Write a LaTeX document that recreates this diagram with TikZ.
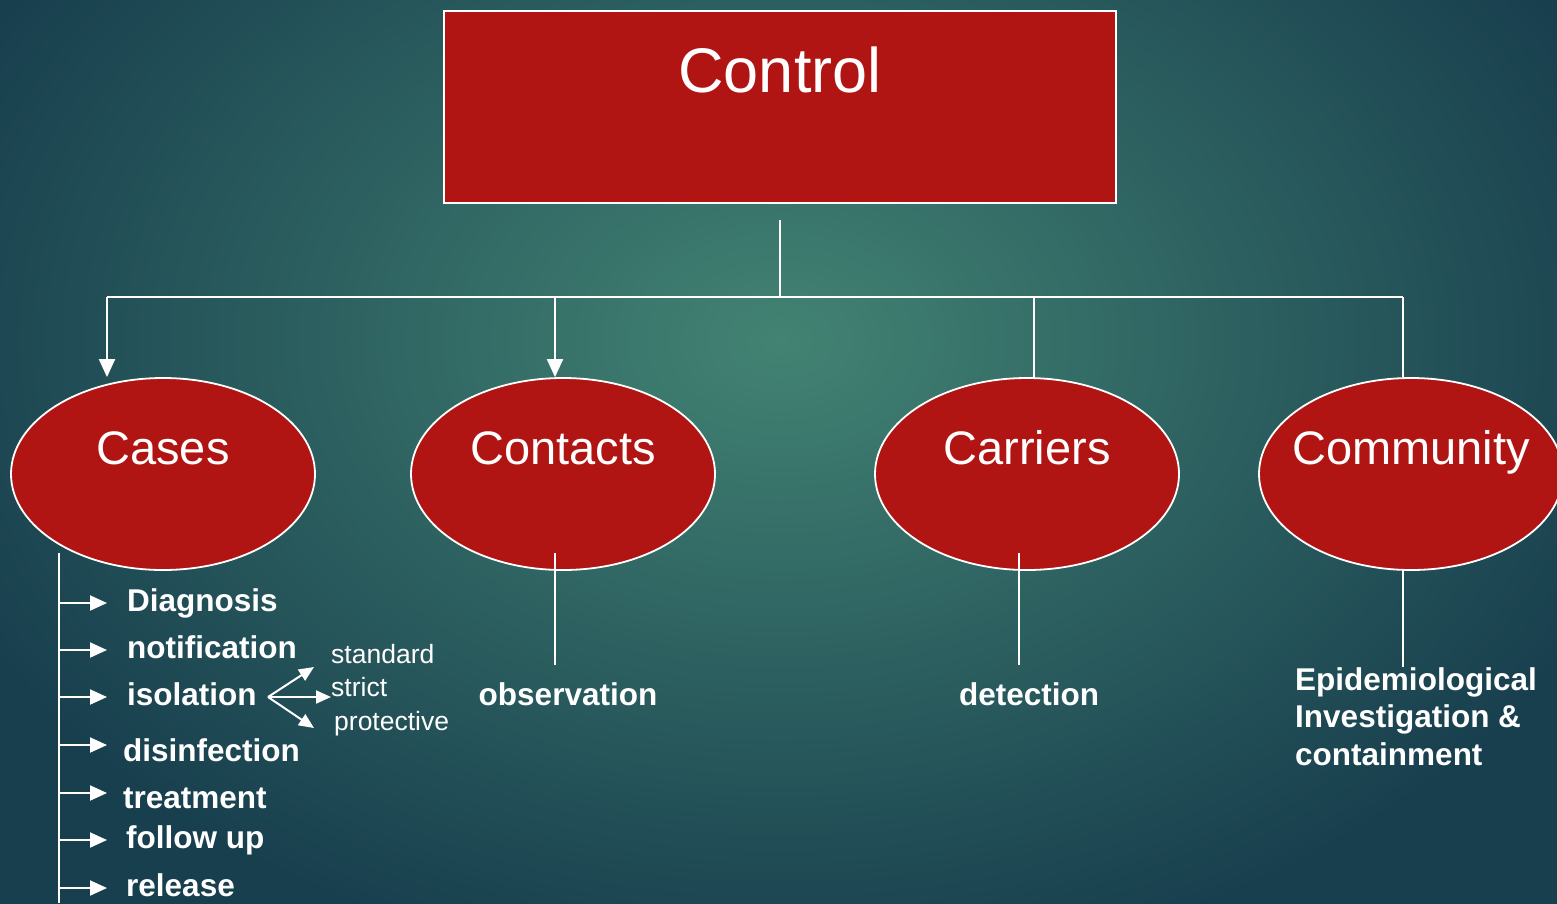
\documentclass[tikz,border=0pt]{standalone}
\usepackage{fontspec}
\setmainfont{Liberation Sans}
\usetikzlibrary{arrows.meta,shapes.geometric}
\definecolor{bgin}{HTML}{428373}
\definecolor{bgout}{HTML}{183F4E}
\definecolor{redbox}{HTML}{B01513}
\tikzset{
  wline/.style={draw=white, line width=2pt},
  downarr/.style={wline, -{Triangle[length=18pt,width=16pt]}},
  listarr/.style={wline, -{Triangle[length=17pt,width=15pt]}},
  brarr/.style={wline, -{Triangle[length=15pt,width=13pt]}},
  ell/.style={ellipse, draw=white, line width=1.8pt, fill=redbox, minimum width=304pt, minimum height=192pt, inner sep=0pt},
  elltext/.style={text=white, font=\fontsize{47}{56}\selectfont, text height=34pt, text depth=0pt, inner sep=0pt},
  listitem/.style={text=white, font=\fontsize{31.5}{37.5}\selectfont\bfseries, text height=23pt, text depth=7pt, inner sep=0pt, anchor=west},
  subitem/.style={text=white, font=\fontsize{26.5}{30}\selectfont, text height=19pt, text depth=5.5pt, inner sep=0pt, anchor=west},
}
\begin{document}
\begin{tikzpicture}[x=1pt,y=-1pt]
\useasboundingbox (0,0) rectangle (1557,903);
\begin{scope}
\clip (0,0) rectangle (1557,903);
\shade[inner color=bgin, outer color=bgout] (-120,-300) rectangle (1680,980);
\end{scope}

% top box
\node[draw=white, line width=2pt, fill=redbox, minimum width=672pt, minimum height=192pt, inner sep=0pt, anchor=north west,
  label={[text=white, font=\fontsize{63}{70}\selectfont, text height=45.4pt, text depth=0pt, inner sep=0pt, yshift=37pt]center:Control}]
  (ctrl) at (443,10) {};

% ellipses
\node[ell, label={[elltext, yshift=27pt]center:Cases}] (cases) at (163,474) {};
\node[ell, label={[elltext, yshift=27pt]center:Contacts}] (contacts) at (563,474) {};
\node[ell, label={[elltext, yshift=27pt]center:Carriers}] (carriers) at (1027,474) {};
\node[ell, label={[elltext, yshift=27pt]center:Community}] (community) at (1411,474) {};

% junction coordinates
\coordinate (jL) at (107,297);
\coordinate (j2) at (555,297);
\coordinate (j3) at (1034,297);
\coordinate (jR) at (1403,297);

\draw[wline] ([yshift=-16pt]ctrl.south) -- (ctrl.south |- jL);
\draw[wline] (jL) -- (jR);
\draw[downarr] (jL) -- (jL |- cases.north);
\draw[downarr] (j2) -- (j2 |- contacts.north);
\draw[wline] (j3) -- (j3 |- carriers.north);
\draw[wline] (jR) -- (jR |- community.north);

% Cases list
\node[listitem] (diag) at (127,603) {Diagnosis};
\node[listitem] (notif) at (127,650) {notification};
\node[listitem] (iso) at (127,697) {isolation};
\node[listitem] (dis) at (123,753) {disinfection};
\node[listitem] (treat) at (123,800) {treatment};
\node[listitem] (fol) at (126,840) {follow up};
\node[listitem] (rel) at (126,888) {release};

\coordinate (trunkTop) at (59,553);
\coordinate (trunkBot) at (59,903);
\coordinate (tipx) at (107,0);
\draw[wline] (trunkTop) -- (trunkBot);
\draw[listarr] (trunkTop |- diag.west) -- (tipx |- diag.west);
\draw[listarr] (trunkTop |- notif.west) -- (tipx |- notif.west);
\draw[listarr] (trunkTop |- iso.west) -- (tipx |- iso.west);
\draw[listarr] ([yshift=8pt]trunkTop |- dis.west) -- ([yshift=8pt]tipx |- dis.west);
\draw[listarr] ([yshift=7pt]trunkTop |- treat.west) -- ([yshift=7pt]tipx |- treat.west);
\draw[listarr] (trunkTop |- fol.west) -- (tipx |- fol.west);
\draw[listarr] (trunkTop |- rel.west) -- (tipx |- rel.west);

% isolation branches
\node[subitem] (std) at (331,657) {standard};
\node[subitem] (strict) at (331,690) {strict};
\node[subitem] (prot) at (334,724) {protective};
\coordinate (bs) at (268,697);
\coordinate (bu) at (314,667);
\coordinate (bm) at (331,697);
\coordinate (bd) at (314,728);
\draw[brarr] (bs) -- (bu);
\draw[brarr] (bs) -- (bm);
\draw[brarr] (bs) -- (bd);

% Contacts
\node[listitem, anchor=center] (obs) at (568,697) {observation};
\coordinate (cTop) at (555,553);
\coordinate (cBot) at (555,665);
\draw[wline] (cTop) -- (cBot);

% Carriers
\node[listitem, anchor=center] (det) at (1029,697) {detection};
\coordinate (dTop) at (1019,553);
\coordinate (dBot) at (1019,665);
\draw[wline] (dTop) -- (dBot);

% Community
\node[text=white, font=\fontsize{31.5}{37.5}\selectfont\bfseries, align=left, inner sep=0pt, anchor=north west] (epi) at (1295,667)
  {Epidemiological\\Investigation \&\\containment};
\draw[wline] (jR |- community.south) -- (jR |- epi.north);
\end{tikzpicture}
\end{document}
